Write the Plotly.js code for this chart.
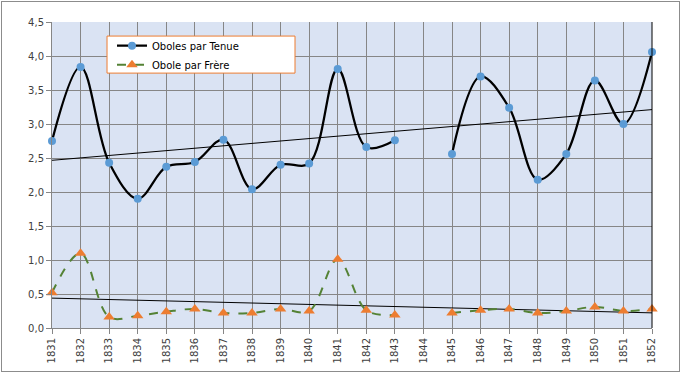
<!DOCTYPE html>
<html>
<head>
<meta charset="utf-8">
<script src="https://cdn.plot.ly/plotly-3.0.1.min.js"></script>
<style>
  html, body { margin: 0; padding: 0; background: #fff; }
  #wrap { position: relative; width: 681px; height: 373px; }
  #chart { width: 681px; height: 373px; }
  #frame { position: absolute; left: 1px; top: 1px; width: 677px; height: 369px; border: 1px solid #8c8c8c; pointer-events: none; }
</style>
</head>
<body>
<div id="wrap"><div id="chart"></div><div id="frame"></div></div>
<script>
const years = ["1831","1832","1833","1834","1835","1836","1837","1838","1839","1840","1841","1842","1843","1844","1845","1846","1847","1848","1849","1850","1851","1852"];
const obolesTenue = [2.75,3.84,2.43,1.90,2.37,2.44,2.77,2.04,2.40,2.42,3.81,2.66,2.76,null,2.56,3.70,3.24,2.18,2.56,3.64,3.00,4.06];
const oboleFrere = [0.52,1.10,0.16,0.18,0.24,0.28,0.22,0.22,0.28,0.25,1.01,0.26,0.19,null,0.22,0.26,0.28,0.22,0.25,0.31,0.25,0.28];
const seriesNames = ["Oboles par Tenue","Obole par Frère"];

function trend(vals) {
  const xs = [], ys = [];
  vals.forEach((v, i) => { if (v !== null) { xs.push(i + 1); ys.push(v); } });
  const n = xs.length;
  const mx = xs.reduce((a, b) => a + b, 0) / n;
  const my = ys.reduce((a, b) => a + b, 0) / n;
  let sxy = 0, sxx = 0;
  for (let i = 0; i < n; i++) { sxy += (xs[i] - mx) * (ys[i] - my); sxx += (xs[i] - mx) ** 2; }
  const b = sxy / sxx, a = my - b * mx;
  return years.map((_, i) => a + b * (i + 1));
}

const font = { family: "DejaVu Sans, Verdana, sans-serif", size: 10, color: "#404040" };

const traces = [
  { x: years, y: trend(obolesTenue), type: "scatter", mode: "lines", line: { color: "#000", width: 1 }, showlegend: false, hoverinfo: "skip" },
  { x: years, y: trend(oboleFrere), type: "scatter", mode: "lines", line: { color: "#000", width: 1 }, showlegend: false, hoverinfo: "skip" },
  { x: years, y: obolesTenue, name: seriesNames[0], type: "scatter", mode: "lines+markers", cliponaxis: false,
    line: { color: "#000000", width: 2.25, shape: "spline", smoothing: 1 },
    marker: { color: "#5B9BD5", size: 8, symbol: "circle" }, connectgaps: false },
  { x: years, y: oboleFrere, name: seriesNames[1], type: "scatter", mode: "lines+markers", cliponaxis: false,
    line: { color: "#548235", width: 2, dash: "dash", shape: "spline", smoothing: 1 },
    marker: { color: "#ED7D31", size: 10, symbol: "triangle-up" }, connectgaps: false }
];

const layout = {
  width: 681, height: 373,
  margin: { l: 52, r: 29, t: 22, b: 45 },
  paper_bgcolor: "#ffffff",
  plot_bgcolor: "#DAE3F3",
  separators: ",.",
  font: font,
  xaxis: {
    type: "category", range: [0, 21], tickangle: -90,
    showgrid: true, gridcolor: "#868686", gridwidth: 1,
    ticks: "outside", ticklen: 5, tickcolor: "#868686",
    showline: true, linecolor: "#868686", linewidth: 1,
    tickfont: font, zeroline: false
  },
  yaxis: {
    range: [0, 4.5], dtick: 0.5, tick0: 0, tickformat: ".1f",
    showgrid: true, gridcolor: "#868686", gridwidth: 1,
    ticks: "outside", ticklen: 5, tickcolor: "#868686",
    showline: true, linecolor: "#868686", linewidth: 1,
    tickfont: font, zeroline: false
  },
  shapes: [
    { type: "line", xref: "paper", yref: "paper", x0: 1, x1: 1, y0: 0, y1: 1, line: { color: "#000", width: 1 } },
    { type: "rect", xref: "paper", yref: "paper", x0: 0.0917, x1: 0.405, y0: 0.833, y1: 0.954, layer: "above",
      fillcolor: "#ffffff", line: { color: "#ED7D31", width: 1 } }
  ],
  legend: {
    x: 0.1, y: 0.97, xanchor: "left", yanchor: "top",
    bgcolor: "rgba(0,0,0,0)", borderwidth: 0,
    font: { family: "DejaVu Sans, Verdana, sans-serif", size: 10, color: "#000" },
    traceorder: "normal", tracegroupgap: 0
  },
  showlegend: true
};

Plotly.newPlot("chart", traces, layout, { displayModeBar: false, staticPlot: true });
</script>
</body>
</html>
